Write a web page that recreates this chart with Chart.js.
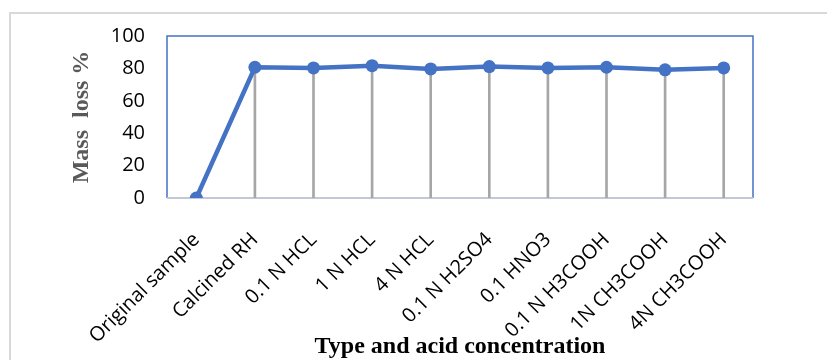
<!DOCTYPE html>
<html>
<head>
<meta charset="utf-8">
<script src="https://cdn.jsdelivr.net/npm/chart.js@4/dist/chart.umd.min.js"></script>
<style>
html,body{margin:0;padding:0;background:#fff;}
#wrap{width:827px;height:360px;position:relative;}
</style>
</head>
<body>
<div id="wrap"><canvas id="c" width="827" height="360"></canvas></div>
<script>
const categories = ["Original sample","Calcined RH","0.1 N HCL","1 N HCL","4 N HCL","0.1 N H2SO4","0.1 HNO3","0.1 N H3COOH","1N CH3COOH","4N CH3COOH"];
const massLoss = [0, 80.7, 80.3, 81.7, 79.7, 81.1, 80.3, 80.7, 79.1, 80.3];
const yTicks = [0, 20, 40, 60, 80, 100];
const xTitle = "Type and acid concentration";
const yTitle = "Mass  loss %";

const framePlugin = {
  id: 'frame',
  beforeDraw(chart) {
    const ctx = chart.ctx;
    ctx.save();
    ctx.strokeStyle = '#d9d9d9';
    ctx.lineWidth = 2;
    ctx.strokeRect(10, 13, 1000, 500);
    ctx.restore();
  },
  beforeDatasetsDraw(chart) {
    const {ctx, chartArea: a} = chart;
    ctx.save();
    ctx.strokeStyle = '#4472c4';
    ctx.lineWidth = 1.5;
    ctx.beginPath();
    ctx.moveTo(a.left, a.bottom);
    ctx.lineTo(a.left, a.top);
    ctx.lineTo(a.right, a.top);
    ctx.lineTo(a.right, a.bottom);
    ctx.stroke();
    ctx.strokeStyle = '#c3c9d4';
    ctx.lineWidth = 2;
    ctx.beginPath();
    ctx.moveTo(a.left, a.bottom);
    ctx.lineTo(a.right, a.bottom);
    ctx.stroke();
    ctx.restore();
  }
};

new Chart(document.getElementById('c'), {
  data: {
    labels: categories,
    datasets: [
      {
        type: 'line',
        data: massLoss,
        borderColor: '#4472c4',
        backgroundColor: '#4472c4',
        borderWidth: 4.5,
        pointRadius: 6.5,
        pointBorderWidth: 0,
        pointBackgroundColor: '#4472c4',
        tension: 0,
        order: 1
      },
      {
        type: 'bar',
        data: massLoss,
        backgroundColor: '#a6a6a6',
        barThickness: 2,
        order: 2
      }
    ]
  },
  options: {
    responsive: false,
    animation: false,
    devicePixelRatio: 1,
    layout: { padding: { left: 0, right: 74, top: 36, bottom: 0 } },
    plugins: { legend: { display: false }, tooltip: { enabled: false } },
    scales: {
      x: {
        offset: true,
        grid: { display: false, drawTicks: false },
        border: { display: false },
        ticks: {
          autoSkip: false, maxRotation: 45, minRotation: 45,
          color: '#000', padding: 30,
          font: { family: 'Open Sans', size: 20 }
        },
        title: {
          display: true, text: xTitle, color: '#000',
          font: { family: 'Liberation Serif', size: 24, weight: 'bold' },
          padding: { top: 0, bottom: -1 }
        },
        afterFit(s) { s.height = 162; }
      },
      y: {
        min: 0, max: 100,
        grid: { display: false, drawTicks: false },
        border: { display: false },
        afterBuildTicks(s) { s.ticks = yTicks.map(v => ({ value: v })); },
        ticks: {
          color: '#000', padding: 22,
          font: { family: 'Open Sans', size: 20 }
        },
        title: {
          display: true, text: yTitle, color: '#595959',
          font: { family: 'Liberation Serif', size: 24, weight: 'bold' },
          padding: { top: 67, bottom: 0 }
        },
        afterFit(s) { s.width = 167; }
      }
    }
  },
  plugins: [framePlugin]
});
</script>
</body>
</html>
